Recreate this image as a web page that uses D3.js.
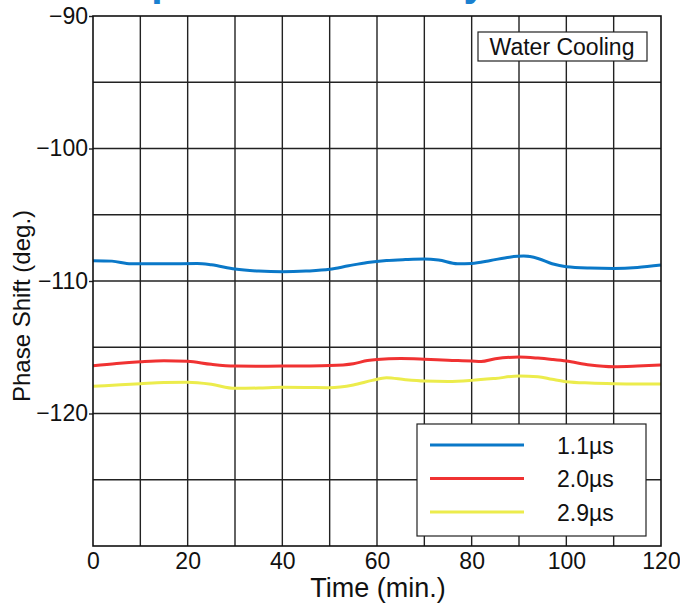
<!DOCTYPE html>
<html><head><meta charset="utf-8">
<script src="https://cdn.jsdelivr.net/npm/d3@7/dist/d3.min.js"></script>
<style>
html,body{margin:0;padding:0;background:#fff;}
text{font-family:"Liberation Sans",Arial,sans-serif;fill:#111;}
</style></head>
<body><svg id="c" width="680" height="605"></svg>
<script>
const title = "Temperature Stability";
const xLabel = "Time (min.)";
const yLabel = "Phase Shift (deg.)";
const boxLabel = "Water Cooling";
const seriesNames = ["1.1\u00b5s", "2.0\u00b5s", "2.9\u00b5s"];
const seriesColors = ["#0a78c8", "#f03232", "#ecec4c"];
const xTickLabels = [0, 20, 40, 60, 80, 100, 120];
const yTickLabels = [-90, -100, -110, -120];

const blueTimes = [0,4,8,15,22,25,30,35,40,45,50,54,58,62,66,70,73,77,80,84,88,91,94,97,100,105,110,115,120];
const blueValues = [-108.47,-108.5,-108.7,-108.7,-108.68,-108.78,-109.1,-109.25,-109.3,-109.25,-109.12,-108.85,-108.6,-108.45,-108.38,-108.34,-108.42,-108.7,-108.67,-108.45,-108.2,-108.12,-108.3,-108.7,-108.92,-109.02,-109.05,-108.98,-108.8];

const redTimes = [0,5,10,15,20,25,30,35,40,45,50,55,58,60,65,70,75,80,82,85,90,94,97,100,105,110,115,120];
const redValues = [-116.39,-116.22,-116.09,-116.01,-116.06,-116.29,-116.42,-116.43,-116.42,-116.41,-116.38,-116.24,-116.0,-115.92,-115.85,-115.9,-115.98,-116.04,-116.08,-115.87,-115.74,-115.82,-115.92,-116.04,-116.34,-116.47,-116.42,-116.34];

const yellowTimes = [0,5,10,15,20,25,30,35,40,45,50,55,59,62,66,70,75,80,85,90,94,97,100,105,110,115,120];
const yellowValues = [-117.95,-117.85,-117.75,-117.66,-117.65,-117.8,-118.1,-118.08,-118.02,-118.03,-118.05,-117.85,-117.5,-117.3,-117.45,-117.55,-117.58,-117.5,-117.35,-117.17,-117.22,-117.42,-117.6,-117.7,-117.75,-117.77,-117.77];

const series = [
  {name: seriesNames[0], color: seriesColors[0], t: blueTimes, v: blueValues},
  {name: seriesNames[1], color: seriesColors[1], t: redTimes, v: redValues},
  {name: seriesNames[2], color: seriesColors[2], t: yellowTimes, v: yellowValues}
];

const svg = d3.select("#c");
const L = 93, R = 661, T = 16, B = 546;
const x = d3.scaleLinear().domain([0,120]).range([L,R]);
const y = d3.scaleLinear().domain([-130,-90]).range([B,T]);

// title (mostly above the visible area, as in the reference)
svg.append("text").attr("x", 70).attr("y", -4)
  .style("font-size","41px").style("font-weight","bold").style("fill","#1a80d0")
  .text(title);

// grid
const g = svg.append("g");
g.selectAll("line.vx").data(d3.range(10,120,10)).enter().append("line")
  .attr("x1", d=>x(d)).attr("x2", d=>x(d)).attr("y1", T).attr("y2", B)
  .attr("stroke","#222").attr("stroke-width",1.4);
g.selectAll("line.hy").data(d3.range(-125,-90,5)).enter().append("line")
  .attr("y1", d=>y(d)).attr("y2", d=>y(d)).attr("x1", L).attr("x2", R)
  .attr("stroke","#222").attr("stroke-width",1.4);

// axes
const xAxis = d3.axisBottom(x).tickValues(xTickLabels).tickSize(0).tickPadding(7).tickFormat(d=>d);
const ax = svg.append("g").attr("transform",`translate(0,${B})`).call(xAxis);
ax.select(".domain").remove();
ax.selectAll("text").style("font-size","23px").style("font-family","'Liberation Sans',Arial,sans-serif").attr("fill","#111");

const yAxis = d3.axisLeft(y).tickValues(yTickLabels).tickSize(4).tickPadding(1).tickFormat(d=>"\u2212"+Math.abs(d));
const ay = svg.append("g").attr("transform",`translate(${L},0)`).call(yAxis);
ay.select(".domain").remove();
ay.selectAll("line").attr("stroke","#222").attr("stroke-width",1.4);
ay.selectAll("text").style("font-size","23px").style("font-family","'Liberation Sans',Arial,sans-serif").attr("fill","#111");

// series lines
const line = d3.line().x(d=>x(d[0])).y(d=>y(d[1])).curve(d3.curveMonotoneX);
series.forEach(s=>{
  svg.append("path").datum(s.t.map((t,i)=>[t,s.v[i]]))
    .attr("d", line).attr("fill","none").attr("stroke", s.color).attr("stroke-width",3);
});

// frame
svg.append("rect").attr("x",L).attr("y",T).attr("width",R-L).attr("height",B-T)
  .attr("fill","none").attr("stroke","#111").attr("stroke-width",1.6);

// Water cooling box
svg.append("rect").attr("x",478).attr("y",32).attr("width",169).attr("height",29)
  .attr("fill","#fff").attr("stroke","#222").attr("stroke-width",1.2);
svg.append("text").attr("x",562).attr("y",54.5).attr("text-anchor","middle")
  .style("font-size","23px").text(boxLabel);

// legend
const lg = svg.append("g");
lg.append("rect").attr("x",417).attr("y",424).attr("width",229).attr("height",112)
  .attr("fill","#fff").attr("stroke","#222").attr("stroke-width",1.2);
series.forEach((s,i)=>{
  const yy = 445 + i*33.5;
  lg.append("line").attr("x1",430).attr("x2",524).attr("y1",yy).attr("y2",yy)
    .attr("stroke",s.color).attr("stroke-width",3);
  lg.append("text").attr("x",557).attr("y",yy+8.5).style("font-size","23px").text(s.name);
});

// axis titles
svg.append("text").attr("x",378).attr("y",597).attr("text-anchor","middle")
  .style("font-size","27px").text(xLabel);
svg.append("text").attr("transform","translate(30,306) rotate(-90)").attr("text-anchor","middle")
  .style("font-size","24px").text(yLabel);
</script></body></html>
